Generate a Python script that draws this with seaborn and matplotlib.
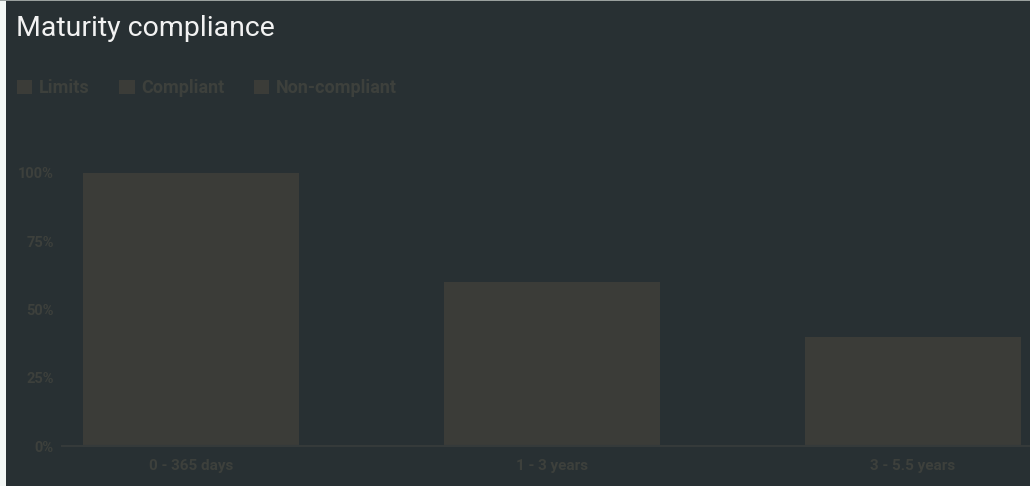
import matplotlib
matplotlib.use("Agg")
import matplotlib.pyplot as plt
from matplotlib.patches import Patch, Rectangle
import seaborn as sns
import pandas as pd

categories = ["0 - 365 days", "1 - 3 years", "3 - 5.5 years"]
limits = [100, 60, 40]
legend_labels = ["Limits", "Compliant", "Non-compliant"]
yticks = [0, 25, 50, 75, 100]
ytick_labels = ["0%", "25%", "50%", "75%", "100%"]

BG = "#283033"
BAR = "#3b3c38"
TXT = "#3d403c"

sns.set_theme(style="dark")
plt.rcParams['font.family'] = ['Roboto', 'DejaVu Sans']

W, H = 1030, 486
fig = plt.figure(figsize=(W / 100, H / 100), dpi=100)
fig.patch.set_facecolor(BG)

# white strip on the left and thin line on top
fig.patches.append(Rectangle((0, 0), 6 / W, 1, transform=fig.transFigure,
                             facecolor="#f3f7f5", edgecolor="none", zorder=0))
fig.patches.append(Rectangle((0, 1 - 1.5 / H), 1, 1.5 / H, transform=fig.transFigure,
                             facecolor="#9aa09e", edgecolor="none", zorder=0))

left_px, right_px, bottom_px, top_px = 62, 1030, 446, 140
ax = fig.add_axes([left_px / W, (H - bottom_px) / H,
                   (right_px - left_px) / W, (bottom_px - top_px) / H])
ax.set_facecolor(BG)

df = pd.DataFrame({"category": categories, "value": limits})
sns.barplot(data=df, x="category", y="value", color=BAR, width=0.6,
            saturation=1, ax=ax)
for p in ax.patches:
    p.set_edgecolor("none")

ax.set_xlim(-(191 - left_px) / 361, 2 + (right_px - 913) / 361)
ax.set_ylim(0, (bottom_px - top_px) / 2.73)
ax.set_yticks(yticks)
ax.set_yticklabels(ytick_labels)
ax.set_xlabel("")
ax.set_ylabel("")
ax.grid(False)
for s in ["top", "right", "left"]:
    ax.spines[s].set_visible(False)
ax.spines["bottom"].set_color("#353a3a")
ax.spines["bottom"].set_linewidth(1.5)
ax.tick_params(axis="both", length=0, colors=TXT)
for lab in ax.get_yticklabels():
    lab.set_fontsize(10.5)
    lab.set_fontweight("bold")
    lab.set_color(TXT)
for lab in ax.get_xticklabels():
    lab.set_fontsize(11)
    lab.set_fontweight("bold")
    lab.set_color(TXT)
ax.tick_params(axis="y", pad=6)
ax.tick_params(axis="x", pad=9)

fig.text(16 / W, 1 - 28 / H, "Maturity compliance", color="#f2f2f2",
         fontsize=20.5, va="center", ha="left", family=["Roboto", "DejaVu Sans"])

handles = [Patch(facecolor=BAR, edgecolor="none") for _ in legend_labels]
leg = fig.legend(handles, legend_labels, loc="center left",
                 bbox_to_anchor=(17 / W, 1 - 88 / H), ncol=3, frameon=False,
                 borderpad=0, borderaxespad=0,
                 handlelength=0.85, handleheight=0.85, handletextpad=0.35,
                 columnspacing=1.65, prop={"size": 13, "weight": "bold"})
for t in leg.get_texts():
    t.set_color(TXT)

fig.savefig("out.png", dpi=100, facecolor=BG)
